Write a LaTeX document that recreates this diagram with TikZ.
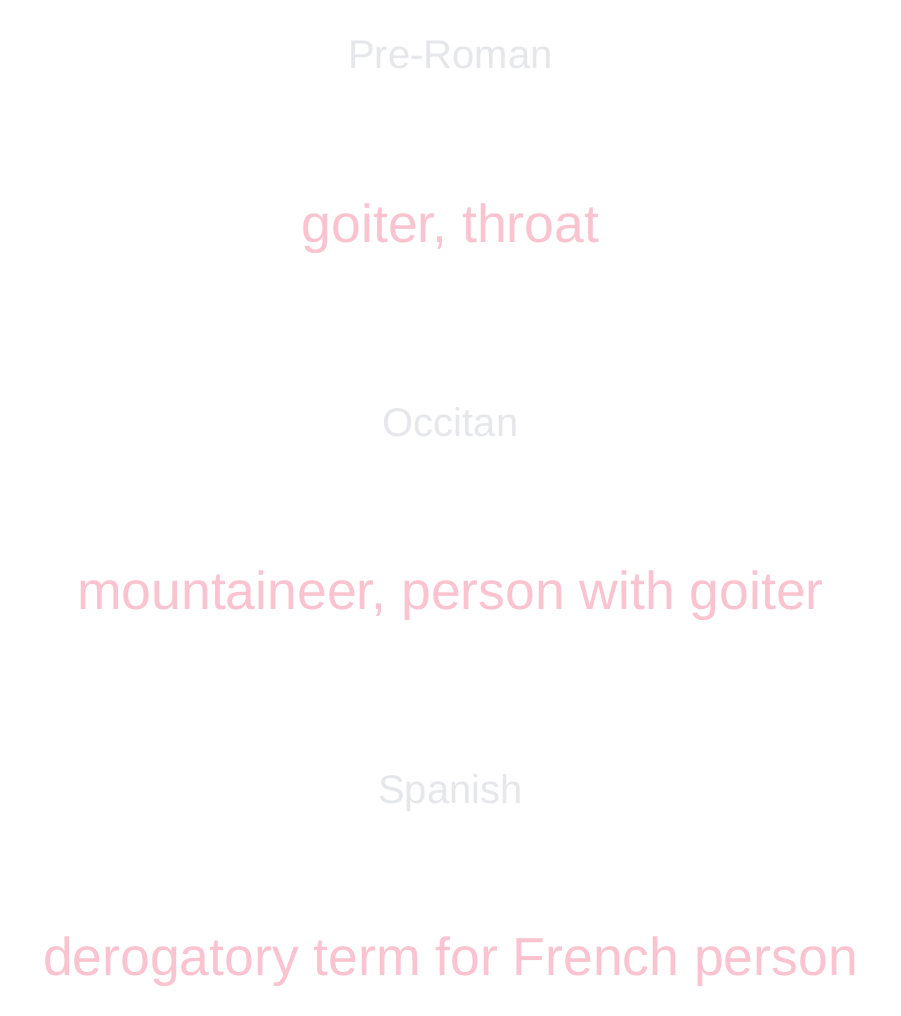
\documentclass[tikz,border=0pt]{standalone}
\usepackage{fontspec}
\setmainfont{Liberation Sans}
\definecolor{labelgray}{HTML}{E5E7EB}
\definecolor{glosspink}{HTML}{FAC3CF}
\tikzset{
  lang/.style={anchor=base, inner sep=0pt, text=labelgray, font=\fontsize{40}{48}\selectfont},
  gloss/.style={anchor=base, inner sep=0pt, text=glosspink, font=\fontsize{53.5}{64}\selectfont}
}
\begin{document}
\begin{tikzpicture}[x=1pt,y=1pt]
\useasboundingbox[fill=white] (0,0) rectangle (901,-1016);
\node[lang]  (l1) at (450.5,-69)  {Pre-Roman};
\node[gloss] (g1) at (450.5,-242) {goiter, throat};
\node[lang]  (l2) at (450.5,-436) {Occitan};
\node[gloss] (g2) at (450.5,-609) {mountaineer, person with goiter};
\node[lang]  (l3) at (450.5,-803) {Spanish};
\node[gloss] (g3) at (450.5,-975) {derogatory term for French person};
\end{tikzpicture}
\end{document}
